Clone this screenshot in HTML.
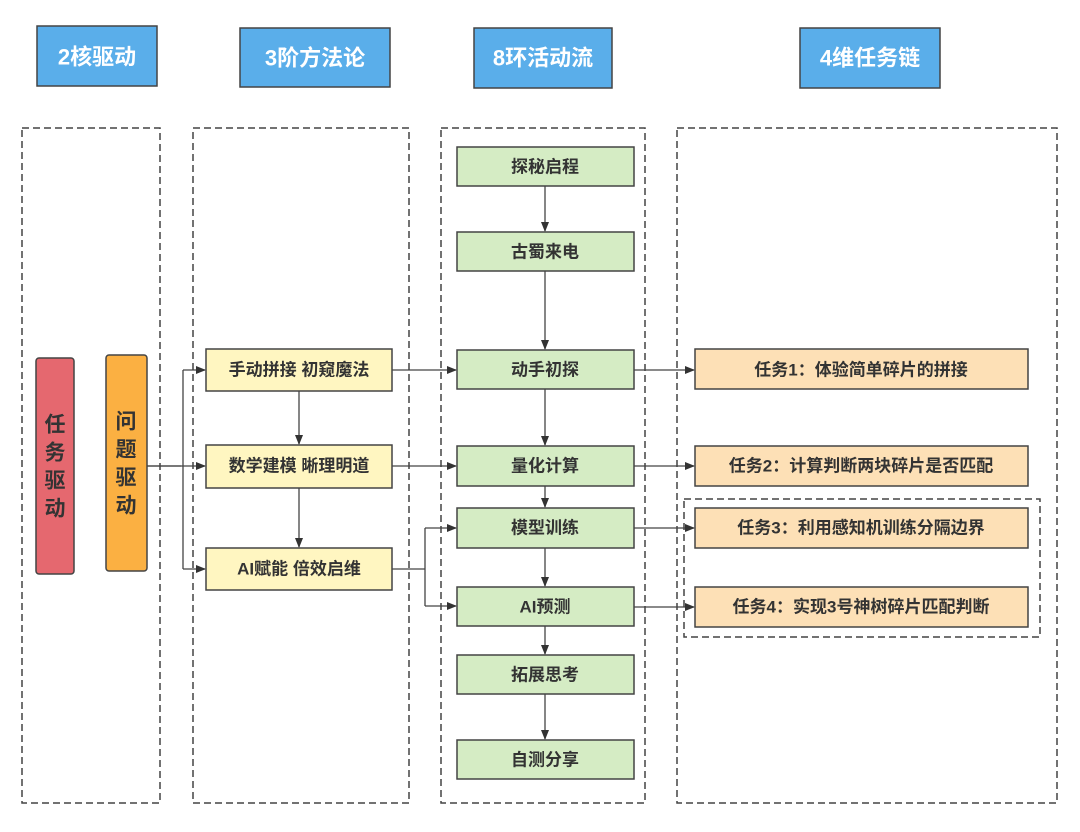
<!DOCTYPE html>
<html><head><meta charset="utf-8"><style>
body{margin:0;background:#fff}
text{font-family:"Liberation Sans","Noto Sans CJK SC",sans-serif;font-weight:bold;fill:#333;text-anchor:middle;dominant-baseline:central}
</style></head><body>
<svg width="1080" height="827" viewBox="0 0 1080 827" xmlns="http://www.w3.org/2000/svg">
<defs><marker id="a" markerWidth="10" markerHeight="8" refX="9" refY="4" orient="auto" markerUnits="userSpaceOnUse"><path d="M0,0L10,4L0,8z" fill="#333"/></marker></defs>
<g fill="#5aaeea" stroke="#444" stroke-width="1.5">
<rect x="37" y="26" width="120" height="60"/><rect x="240" y="28" width="150" height="59"/><rect x="474" y="28" width="138" height="60"/><rect x="800" y="28" width="140" height="60"/></g>
<g font-size="22"><text x="97" y="57" style="fill:#fff">2核驱动</text><text x="315" y="58" style="fill:#fff">3阶方法论</text><text x="543" y="58" style="fill:#fff">8环活动流</text><text x="870" y="58" style="fill:#fff">4维任务链</text></g>
<g fill="none" stroke="#444" stroke-width="1.5" stroke-dasharray="7,4">
<rect x="22" y="128" width="138" height="675"/><rect x="193" y="128" width="216" height="675"/><rect x="441" y="128" width="204" height="675"/><rect x="677" y="128" width="380" height="675"/><rect x="684" y="499" width="356" height="138"/></g>
<rect x="36" y="358" width="38" height="216" rx="3" fill="#e5686f" stroke="#444" stroke-width="1.5"/>
<rect x="106" y="355" width="41" height="216" rx="3" fill="#fbb042" stroke="#444" stroke-width="1.5"/>
<g font-size="21"><text x="55" y="425">任</text><text x="55" y="453">务</text><text x="55" y="481">驱</text><text x="55" y="509">动</text>
<text x="126" y="422">问</text><text x="126" y="450">题</text><text x="126" y="478">驱</text><text x="126" y="506">动</text></g>
<g fill="none" stroke="#444" stroke-width="1.3">
<path d="M147,466H181M183,370V569"/><path d="M183,370H205" marker-end="url(#a)"/><path d="M147,466H205" marker-end="url(#a)"/><path d="M183,569H205" marker-end="url(#a)"/>
<path d="M299,391V444" marker-end="url(#a)"/><path d="M299,488V547" marker-end="url(#a)"/>
<path d="M392,370H456" marker-end="url(#a)"/><path d="M392,466H456" marker-end="url(#a)"/>
<path d="M392,569H425M425,528V606"/><path d="M425,528H456" marker-end="url(#a)"/><path d="M425,606H456" marker-end="url(#a)"/>
<path d="M545,186V231" marker-end="url(#a)"/><path d="M545,271V349" marker-end="url(#a)"/><path d="M545,389V445" marker-end="url(#a)"/><path d="M545,486V507" marker-end="url(#a)"/><path d="M545,548V586" marker-end="url(#a)"/><path d="M545,626V654" marker-end="url(#a)"/><path d="M545,694V739" marker-end="url(#a)"/>
<path d="M634,370H694" marker-end="url(#a)"/><path d="M634,466H694" marker-end="url(#a)"/><path d="M634,528H694" marker-end="url(#a)"/><path d="M634,607H694" marker-end="url(#a)"/>
</g>
<g fill="#fff6c1" stroke="#444" stroke-width="1.5"><rect x="206" y="349" width="186" height="42"/><rect x="206" y="445" width="186" height="43"/><rect x="206" y="548" width="186" height="42"/></g>
<g font-size="17"><text x="299" y="370">手动拼接 初窥魔法</text><text x="299" y="466">数学建模 晰理明道</text><text x="299" y="569">AI赋能 倍效启维</text></g>
<g fill="#d5ecc4" stroke="#444" stroke-width="1.5">
<rect x="457" y="147" width="177" height="39"/><rect x="457" y="232" width="177" height="39"/><rect x="457" y="350" width="177" height="39"/><rect x="457" y="446" width="177" height="40"/><rect x="457" y="508" width="177" height="40"/><rect x="457" y="587" width="177" height="39"/><rect x="457" y="655" width="177" height="39"/><rect x="457" y="740" width="177" height="39"/></g>
<g font-size="17"><text x="545" y="167">探秘启程</text><text x="545" y="252">古蜀来电</text><text x="545" y="370">动手初探</text><text x="545" y="466">量化计算</text><text x="545" y="528">模型训练</text><text x="545" y="607">AI预测</text><text x="545" y="675">拓展思考</text><text x="545" y="760">自测分享</text></g>
<g fill="#fde0b6" stroke="#444" stroke-width="1.5"><rect x="695" y="349" width="333" height="40"/><rect x="695" y="446" width="333" height="40"/><rect x="695" y="508" width="333" height="40"/><rect x="695" y="587" width="333" height="40"/></g>
<g font-size="17"><text x="861" y="370">任务1：体验简单碎片的拼接</text><text x="861" y="466">任务2：计算判断两块碎片是否匹配</text><text x="861" y="528">任务3：利用感知机训练分隔边界</text><text x="861" y="607">任务4：实现3号神树碎片匹配判断</text></g>
</svg>
</body></html>
